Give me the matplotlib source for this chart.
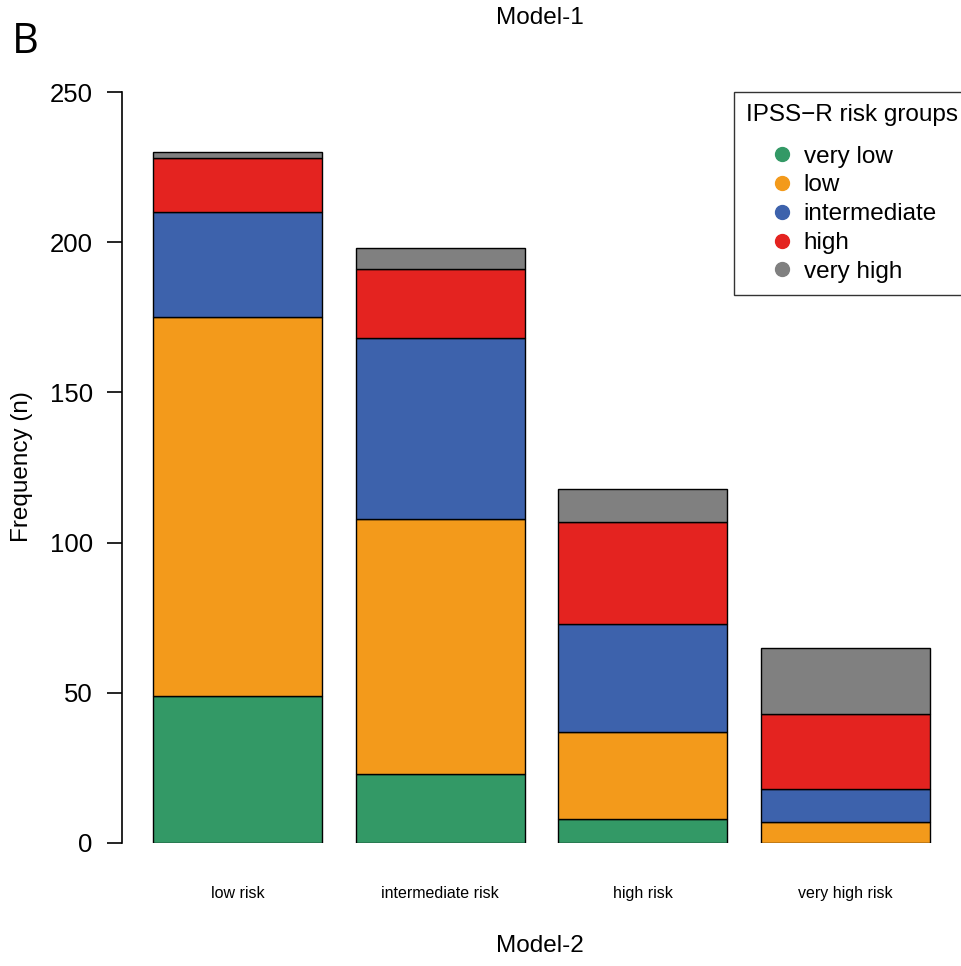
import numpy as np
import matplotlib.pyplot as plt
from matplotlib.lines import Line2D

plt.rcParams['font.family'] = ['Liberation Sans', 'DejaVu Sans']

# Model-2 categories (x axis)
categories = ['low risk', 'intermediate risk', 'high risk', 'very high risk']

# IPSS-R risk groups (stacked), counts per Model-2 category
groups = ['very low', 'low', 'intermediate', 'high', 'very high']
very_low = [49, 23, 8, 0]
low = [126, 85, 29, 7]
intermediate = [35, 60, 36, 11]
high = [18, 23, 34, 25]
very_high = [2, 7, 11, 22]
colors = ['#339966', '#F39A1B', '#3D62AC', '#E42320', '#808080']

series = [very_low, low, intermediate, high, very_high]

fig = plt.figure(figsize=(9.61, 9.66), dpi=100)
ax = fig.add_axes([122 / 961, 123 / 966, 828 / 961, 751 / 966])

x = 0.7 + 1.2 * np.arange(len(categories))
bottom = np.zeros(len(categories))
for vals, col in zip(series, colors):
    ax.bar(x, vals, width=1.0, bottom=bottom, color=col,
           edgecolor='black', linewidth=1.0)
    bottom += np.array(vals)

ax.set_xlim(0.2 - 31 / 169, 4.8 + 20 / 169)
ax.set_ylim(0, 250)
ax.set_yticks([0, 50, 100, 150, 200, 250])
ax.tick_params(axis='y', labelsize=18.5, length=11, width=1.2, pad=10)
ax.set_xticks(x)
ax.set_xticklabels(categories, fontsize=11.5)
ax.tick_params(axis='x', length=0, pad=31)
for s in ['top', 'right', 'bottom']:
    ax.spines[s].set_visible(False)
ax.spines['left'].set_linewidth(1.2)

# axis titles placed like the R output
fig.text(22 / 961, 1 - 467 / 966, 'Frequency (n)', fontsize=17.5, rotation=90,
         ha='center', va='center')
fig.text(540 / 961, 1 - 946 / 966, 'Model-2', fontsize=17.5, ha='center', va='center')
fig.text(540 / 961, 1 - 18 / 966, 'Model-1', fontsize=17.5, ha='center', va='center')
fig.text(12 / 961, 1 - 42 / 966, 'B', fontsize=30, ha='left', va='center',
         family=['Open Sans', 'DejaVu Sans'])

handles = [Line2D([], [], marker='o', linestyle='none', markersize=10,
                  markerfacecolor=c, markeredgecolor=c) for c in colors]
leg = fig.legend(handles, groups, title='IPSS\u2212R risk groups', loc='upper left',
                 bbox_to_anchor=(734 / 961, 1 - 92 / 966), fontsize=17.5,
                 title_fontsize=17.5, frameon=True, fancybox=False,
                 edgecolor='black', handletextpad=0.3, labelspacing=0.28,
                 borderpad=0.5, handlelength=1.2, alignment='center',
                 borderaxespad=0)
leg.get_frame().set_linewidth(1.0)
leg._legend_box.sep = 14

fig.savefig('out.png', dpi=100)
